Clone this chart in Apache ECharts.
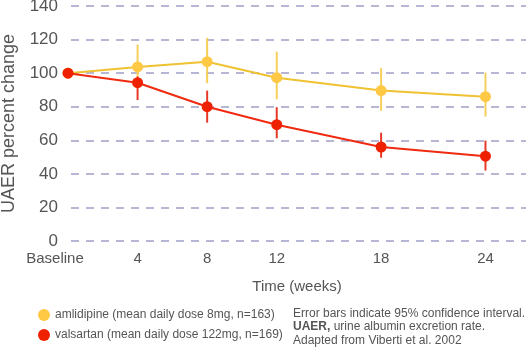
<!DOCTYPE html>
<html>
<head>
<meta charset="utf-8">
<script src="https://cdn.jsdelivr.net/npm/echarts@6/dist/echarts.min.js"></script>
<style>
  html, body { margin: 0; padding: 0; background: #fff; }
  #chart { width: 526px; height: 351px; }
</style>
</head>
<body>
<div id="chart"></div>
<script>
// weeks from baseline
const weeks = [0, 4, 8, 12, 18, 24]
const weekLabels = ['Baseline', '4', '8', '12', '18', '24']

// amlodipine, mean and 95% CI
const amloMean = [100, 103.7, 106.8, 97.3, 89.6, 86.0]
const amloLow = [100, 92, 94, 84.4, 77.5, 74.1]
const amloHigh = [100, 117, 121, 112.8, 103, 100.3]

// valsartan, mean and 95% CI
const valsMean = [100, 94.3, 80, 69.3, 56, 50.5]
const valsLow = [100, 84, 70.5, 61.2, 49.6, 42]
const valsHigh = [100, 98, 89.6, 79.7, 64.5, 59.8]

const amloName = 'amlidipine (mean daily dose 8mg, n=163)'
const valsName = 'valsartan (mean daily dose 122mg, n=169)'

const textColor = '#555'
const font = 'Liberation Sans, Arial, sans-serif'

const pairs = function (xs, ys) {
  return xs.map((x, i) => [x, ys[i]])
}

const bars = function (xs, lo, hi) {
  return xs.map((x, i) => [x, lo[i], hi[i]])
}

const errorBar = function (color) {
  return function (params, api) {
    const top = api.coord([api.value(0), api.value(2)])
    const bottom = api.coord([api.value(0), api.value(1)])
    return {
      type: 'line',
      shape: {x1: top[0], y1: top[1], x2: bottom[0], y2: bottom[1]},
      style: {stroke: color, lineWidth: 2},
    }
  }
}

const chart = echarts.init(document.getElementById('chart'))
chart.setOption({
  animation: false,
  textStyle: {fontFamily: font},
  grid: {left: 68, right: 0, top: 6, bottom: 110, outerBoundsMode: 'none'},
  xAxis: {
    type: 'value',
    min: 0,
    max: 26.33,
    name: 'Time (weeks)',
    nameLocation: 'middle',
    nameGap: 38,
    nameTextStyle: {color: textColor, fontSize: 15},
    axisLine: {show: false},
    axisTick: {show: false},
    splitLine: {show: false},
    axisLabel: {
      customValues: weeks,
      color: textColor,
      fontSize: 15,
      margin: 10,
      formatter: function (v) {
        const label = weekLabels[weeks.indexOf(v)]
        // baseline label sits a bit left of its point
        return v === 0 ? '{base|' + label + '}' : label
      },
      rich: {
        base: {color: textColor, fontSize: 15, padding: [0, 26, 0, 0]}
      }
    },
  },
  yAxis: {
    type: 'value',
    min: 0,
    max: 140,
    interval: 20,
    name: 'UAER percent change',
    nameLocation: 'middle',
    nameRotate: 90,
    nameGap: 50,
    nameTextStyle: {color: textColor, fontSize: 18},
    axisLine: {show: false},
    axisTick: {show: false},
    axisLabel: {color: textColor, fontSize: 17, margin: 10},
    splitLine: {
      lineStyle: {color: '#a0a0c8', width: 1.5, type: [8, 7], dashOffset: -3}
    },
  },
  legend: {
    orient: 'vertical',
    left: 38,
    top: 308,
    padding: 0,
    itemWidth: 12,
    itemHeight: 12,
    itemGap: 6,
    icon: 'circle',
    data: [amloName, valsName],
    textStyle: {color: textColor, fontSize: 12, lineHeight: 14},
  },
  graphic: [
    {
      type: 'text', left: 293, top: 308,
      style: {text: 'Error bars indicate 95% confidence interval.', fill: textColor, font: '12px ' + font}
    },
    {
      type: 'text', left: 293, top: 321,
      style: {
        text: '{b|UAER,} urine albumin excretion rate.',
        fill: textColor,
        font: '12px ' + font,
        rich: {b: {fontWeight: 'bold', fill: textColor, fontSize: 12}}
      }
    },
    {
      type: 'text', left: 293, top: 335,
      style: {text: 'Adapted from Viberti et al. 2002', fill: textColor, font: '12px ' + font}
    },
  ],
  series: [
    {
      name: 'amlo-ci',
      type: 'custom',
      clip: false,
      z: 2,
      renderItem: errorBar('#f5cf5a'),
      encode: {x: 0, y: [1, 2]},
      data: bars(weeks, amloLow, amloHigh),
    },
    {
      name: amloName,
      type: 'line',
      clip: false,
      z: 3,
      symbol: 'circle',
      symbolSize: 11,
      itemStyle: {color: '#ffc845'},
      lineStyle: {color: '#efc232', width: 2},
      data: pairs(weeks, amloMean),
    },
    {
      name: 'vals-ci',
      type: 'custom',
      clip: false,
      z: 4,
      renderItem: errorBar('#e63a28'),
      encode: {x: 0, y: [1, 2]},
      data: bars(weeks, valsLow, valsHigh),
    },
    {
      name: valsName,
      type: 'line',
      clip: false,
      z: 5,
      symbol: 'circle',
      symbolSize: 11,
      itemStyle: {color: '#ee2200'},
      lineStyle: {color: '#f02a10', width: 2},
      data: pairs(weeks, valsMean),
    },
  ],
})
</script>
</body>
</html>
